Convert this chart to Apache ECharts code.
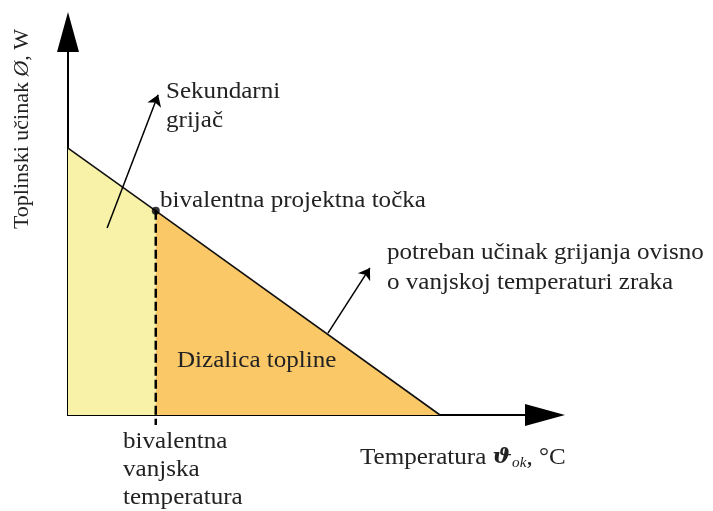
<!DOCTYPE html>
<html>
<head>
<meta charset="utf-8">
<script src="https://cdn.jsdelivr.net/npm/echarts@6/dist/echarts.min.js"></script>
<style>
  html, body { margin: 0; padding: 0; background: #fff; }
  #chart { width: 713px; height: 511px; }
</style>
</head>
<body>
<div id="chart"></div>
<script>
(function() {
  // potreban učinak grijanja (pravac) - x: temperatura, y: učinak (relativne jedinice)
  var demandX = [0, 18.4, 78];
  var demandY = [69.7, 53.3, 0];
  // bivalentna točka
  var bivalentX = 18.4;
  var bivalentY = 53.3;
  var dashBottom = -2.6;
  // strelice za opise
  var arrowSecondary = [[8.2, 48.8], [18.9, 83.6]];
  var arrowDemand = [[54.5, 21.4], [63.3, 38.4]];

  var myChart = echarts.init(document.getElementById("chart"));
  var serif = '"Liberation Serif", "DejaVu Serif", serif';
  var txt = '#222';
  var sx = 1.09; // tekst na slici je malo razvučen

  function label(text, x, y) {
    return {
      type: 'text', z: 100, x: x, y: y, scaleX: sx,
      style: { text: text, x: 0, y: 0, fill: txt, font: '23px ' + serif, textVerticalAlign: 'middle' }
    };
  }

  var axisLine = {
    show: true,
    onZero: true,
    symbol: ['none', 'triangle'],
    symbolSize: [22, 40],
    lineStyle: { color: '#000', width: 2 }
  };

  var option = {
    animation: false,
    grid: { left: 68, right: 168, top: 32, bottom: 96 },
    xAxis: {
      type: 'value', min: 0, max: 100,
      axisLine: axisLine,
      axisTick: { show: false }, axisLabel: { show: false }, splitLine: { show: false }
    },
    yAxis: {
      type: 'value', min: 0, max: 100,
      axisLine: axisLine,
      axisTick: { show: false }, axisLabel: { show: false }, splitLine: { show: false }
    },
    series: [
      {
        // sekundarni grijač (žuto)
        type: 'line',
        data: [[demandX[0], demandY[0]], [demandX[1], demandY[1]]],
        symbol: 'none',
        lineStyle: { color: '#111', width: 1.6 },
        areaStyle: { color: '#f8f2a9', opacity: 1 },
        z: 2
      },
      {
        // dizalica topline (narančasto)
        type: 'line',
        data: [[demandX[1], demandY[1]], [demandX[2], demandY[2]]],
        symbol: 'none',
        lineStyle: { color: '#111', width: 1.6 },
        areaStyle: { color: '#fbc868', opacity: 1 },
        z: 2
      },
      {
        type: 'line',
        data: [[bivalentX, bivalentY], [bivalentX, dashBottom]],
        symbol: 'none',
        clip: false,
        lineStyle: { color: '#000', width: 2.5, type: [9, 4] },
        z: 4
      },
      {
        type: 'scatter',
        data: [[bivalentX, bivalentY]],
        symbolSize: 8,
        itemStyle: { color: '#000' },
        z: 5
      },
      {
        type: 'lines',
        coordinateSystem: 'cartesian2d',
        symbol: ['none', 'arrow'],
        symbolSize: 11,
        lineStyle: { color: '#000', width: 1.5, curveness: 0, opacity: 1 },
        data: [{ coords: arrowSecondary }, { coords: arrowDemand }],
        z: 6
      }
    ],
    graphic: [
      label('Sekundarni', 166, 92),
      label('grijač', 166, 121),
      label('bivalentna projektna točka', 160, 201),
      label('potreban učinak grijanja ovisno', 387, 253),
      label('o vanjskoj temperaturi zraka', 387, 283),
      label('Dizalica topline', 177, 361),
      label('bivalentna', 123, 442),
      label('vanjska', 123, 470),
      label('temperatura', 123, 498),
      {
        type: 'text', z: 100, x: 360, y: 458, scaleX: sx,
        style: {
          x: 0, y: 0, textVerticalAlign: 'middle',
          text: 'Temperatura {b|ϑ}{s|ok}, °C',
          fill: txt, font: '23px ' + serif,
          rich: {
            b: { fontFamily: 'DejaVu Serif', fontWeight: 'bold', fontStyle: 'italic', fontSize: 21, fill: txt },
            s: { fontFamily: 'Liberation Serif', fontStyle: 'italic', fontSize: 14, fill: txt, padding: [10, 0, 0, 0] }
          }
        }
      },
      {
        type: 'text', z: 100,
        x: 22, y: 129, rotation: Math.PI / 2,
        style: {
          x: 0, y: 0, textAlign: 'center', textVerticalAlign: 'middle',
          text: 'Toplinski učinak {i|Ø}, W',
          fill: txt, font: '22px ' + serif,
          rich: { i: { fontFamily: 'Liberation Serif', fontStyle: 'italic', fontSize: 22, fill: txt } }
        }
      }
    ]
  };

  myChart.setOption(option);
  window.addEventListener("resize", function() {
    myChart.resize();
  });
})();
</script>
</body>
</html>
